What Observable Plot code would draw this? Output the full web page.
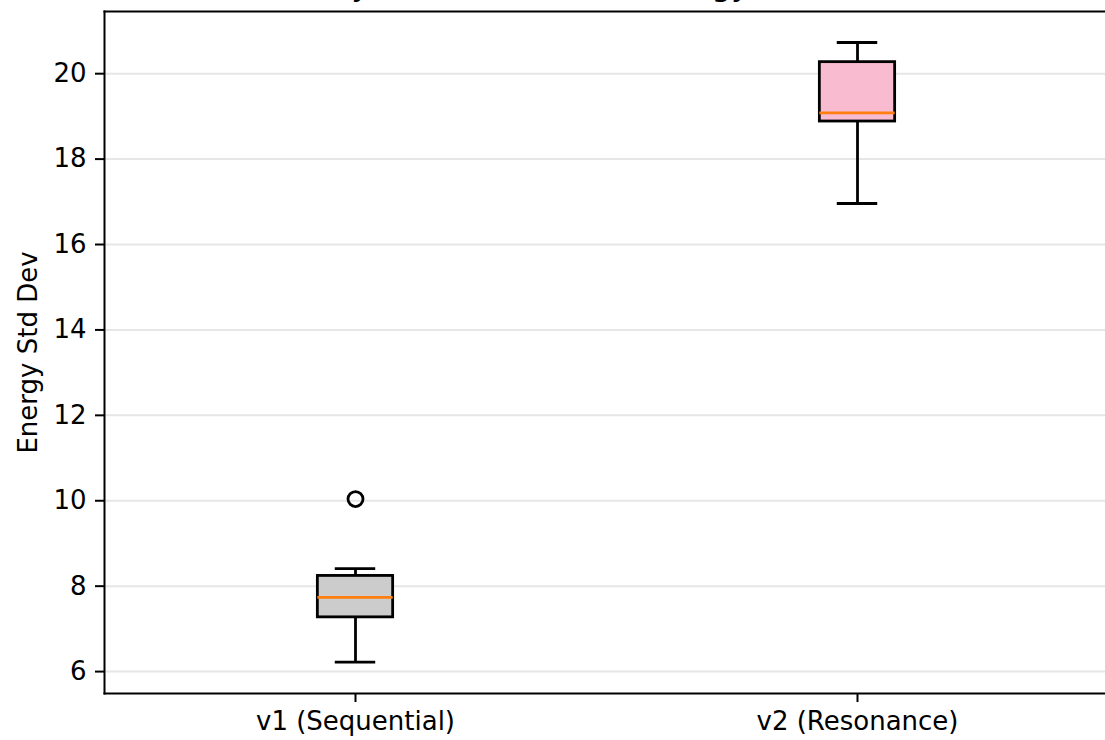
<!DOCTYPE html>
<html>
<head>
<meta charset="utf-8">
<script src="https://cdn.jsdelivr.net/npm/d3@7"></script>
<script src="https://cdn.jsdelivr.net/npm/@observablehq/plot@0.6"></script>
<style>
  body { margin: 0; background: #fff; }
  #wrap { position: relative; width: 1105px; height: 740px; overflow: hidden; background: #fff; }
  #title { position: absolute; left: 0; width: 1212px; top: -30px; text-align: center;
           font-family: "DejaVu Sans"; font-size: 31px; line-height: 31px; white-space: nowrap; color: #000; }
  #chart { position: absolute; left: 0; top: 0; }
</style>
</head>
<body>
<div id="wrap">
  <div id="chart"></div>
  <div id="title">Stability Across Versions: Energy Std Deviation</div>
</div>
<script>
// ---- data ----
const categories   = ["v1 (Sequential)", "v2 (Resonance)"];
const whiskerLow   = [6.22, 16.96];
const quartile1    = [7.27, 18.88];
const medians      = [7.74, 19.08];
const quartile3    = [8.24, 20.27];
const whiskerHigh  = [8.41, 20.73];
const boxFills     = ["#cccccc", "#f8bbd0"];
const outlierCategory = ["v1 (Sequential)"];
const outlierValues   = [10.04];
const yTicks = [6, 8, 10, 12, 14, 16, 18, 20];
const yLabel = "Energy Std Dev";

const boxes = categories.map((c, i) => ({
  cat: c, pos: i + 1,
  lo: whiskerLow[i], q1: quartile1[i], med: medians[i], q3: quartile3[i], hi: whiskerHigh[i],
  fill: boxFills[i]
}));
const outliers = outlierValues.map((v, i) => ({ pos: categories.indexOf(outlierCategory[i]) + 1, v }));

const halfBox = 0.075, halfCap = 0.0375;
const lw = 2.8;

const chart = Plot.plot({
  width: 1105,
  height: 740,
  marginTop: 11,
  marginBottom: 47,
  marginLeft: 104,
  marginRight: 0,
  style: { fontFamily: "DejaVu Sans", fontSize: "26px", color: "#000", background: "#fff" },
  x: { domain: [0.5, 2.5], range: [104, 1108] },
  y: { domain: [5.494, 21.456], range: [692.7, 11] },
  color: { type: "identity" },
  marks: [
    Plot.gridY(yTicks, { stroke: "#e6e6e6", strokeOpacity: 1, strokeWidth: 2 }),
    Plot.ruleX(boxes, { x: "pos", y1: "q3", y2: "hi", stroke: "#000", strokeWidth: lw }),
    Plot.ruleX(boxes, { x: "pos", y1: "lo", y2: "q1", stroke: "#000", strokeWidth: lw }),
    Plot.ruleY(boxes, { y: "hi", x1: d => d.pos - halfCap, x2: d => d.pos + halfCap, stroke: "#000", strokeWidth: lw, strokeLinecap: "square" }),
    Plot.ruleY(boxes, { y: "lo", x1: d => d.pos - halfCap, x2: d => d.pos + halfCap, stroke: "#000", strokeWidth: lw, strokeLinecap: "square" }),
    Plot.rect(boxes, { x1: d => d.pos - halfBox, x2: d => d.pos + halfBox, y1: "q1", y2: "q3", fill: "fill", stroke: "#000", strokeWidth: lw }),
    Plot.ruleY(boxes, { y: "med", x1: d => d.pos - halfBox, x2: d => d.pos + halfBox, stroke: "#ff7f0e", strokeWidth: lw }),
    Plot.dot(outliers, { x: "pos", y: "v", r: 7.5, stroke: "#000", strokeWidth: lw, fill: "none" }),
    Plot.axisY({ ticks: yTicks, tickSize: 9, tickPadding: 9, tickFormat: d => String(d), strokeWidth: 2,
                 label: yLabel, labelAnchor: "center", labelArrow: "none", labelOffset: 86 }),
    Plot.axisX({ ticks: [1, 2], tickFormat: d => categories[d - 1], tickSize: 9, tickPadding: 9, strokeWidth: 2, label: null }),
    Plot.frame({ anchor: "left", stroke: "#000", strokeWidth: 2 }),
    Plot.frame({ anchor: "top", stroke: "#000", strokeWidth: 2 }),
    Plot.frame({ anchor: "bottom", stroke: "#000", strokeWidth: 2 })
  ]
});
document.getElementById("chart").appendChild(chart);
</script>
</body>
</html>
